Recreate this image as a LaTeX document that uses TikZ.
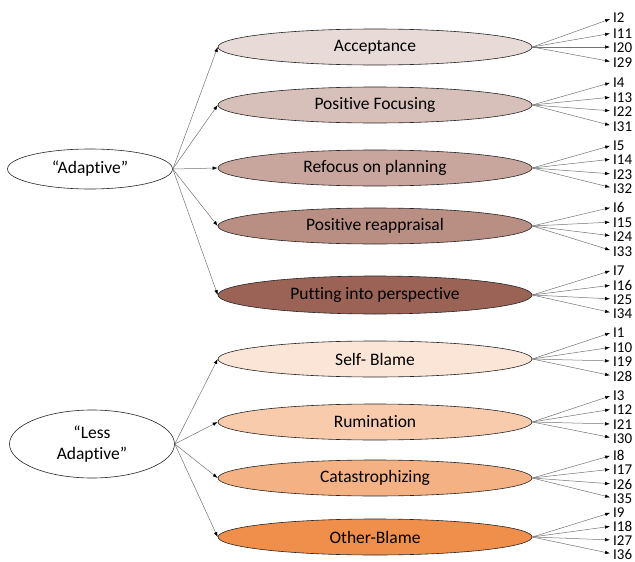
\documentclass[tikz,border=0pt]{standalone}
\usepackage{fontspec}
\setmainfont[Ligatures={TeX,NoCommon}]{Carlito}
\usetikzlibrary{shapes.geometric,arrows.meta}
\definecolor{cAcc}{RGB}{232,218,214}
\definecolor{cPF}{RGB}{216,192,186}
\definecolor{cRP}{RGB}{201,166,157}
\definecolor{cPR}{RGB}{185,142,131}
\definecolor{cPP}{RGB}{154,99,85}
\definecolor{cSB}{RGB}{251,229,214}
\definecolor{cRu}{RGB}{248,203,173}
\definecolor{cCa}{RGB}{244,177,131}
\definecolor{cOB}{RGB}{240,142,75}
\tikzset{
  strat/.style={ellipse,draw=black!85,line width=0.6pt,minimum width=314pt,minimum height=36pt,inner sep=0pt,font=\fontsize{17.5}{19}\selectfont},
  group/.style={ellipse,draw=black!85,line width=0.6pt,fill=white,minimum width=165pt,inner sep=0pt,font=\fontsize{17.5}{21}\selectfont,align=center},
  item/.style={anchor=west,inner sep=0pt,font=\fontsize{15}{15}\selectfont,text height=10.5pt,text depth=0.5pt},
  conn/.style={draw=black!55,line width=0.5pt,-{Latex[black,length=5pt,width=3.5pt]}},
  iconn/.style={conn,shorten >=3pt}
}
\begin{document}
\begin{tikzpicture}[x=1pt,y=-1pt]
\useasboundingbox (0,0) rectangle (635,562);
\node[group,minimum height=40pt] (ad) at (90,169) {“Adaptive”};
\node[group,minimum height=68pt] (la) at (92,444) {“Less\\Adaptive”};
\node[strat,fill=cAcc] (s1) at (375,47) {Acceptance};
\node[strat,fill=cPF] (s2) at (375,105) {Positive Focusing};
\node[strat,fill=cRP] (s3) at (375,168) {Refocus on planning};
\node[strat,fill=cPR] (s4) at (375,226) {Positive reappraisal};
\node[strat,fill=cPP,minimum height=38pt] (s5) at (375,295) {Putting into perspective};
\node[strat,fill=cSB] (s6) at (375,359) {Self- Blame};
\node[strat,fill=cRu] (s7) at (375,422) {Rumination};
\node[strat,fill=cCa] (s8) at (375,478) {Catastrophizing};
\node[strat,fill=cOB] (s9) at (375,537) {Other-Blame};
\foreach \s in {s1,s2,s3,s4,s5}{\draw[conn] (ad.east) -- (\s.west);}
\foreach \s in {s6,s7,s8,s9}{\draw[conn] (la.east) -- (\s.west);}
\foreach \s/\a/\b/\c/\d/\ya/\yb/\yc/\yd in {
  s1/2/11/20/29/18/33/47/62,
  s2/4/13/22/31/82/97/111/126,
  s3/5/14/23/32/145/159/174/188,
  s4/6/15/24/33/207/222/236/251,
  s5/7/16/25/34/270/285/299/313,
  s6/1/10/19/28/332/347/361/376,
  s7/3/12/21/30/395/409/424/438,
  s8/8/17/26/35/455/469/484/498,
  s9/9/18/27/36/512/526/540/554}{
  \node[item] (\s i\a) at (613,\ya) {I\a};
  \node[item] (\s i\b) at (613,\yb) {I\b};
  \node[item] (\s i\c) at (613,\yc) {I\c};
  \node[item] (\s i\d) at (613,\yd) {I\d};
  \foreach \k in {\a,\b,\c,\d}{\draw[iconn] (\s.east) -- (\s i\k.west);}
}
\end{tikzpicture}
\end{document}
